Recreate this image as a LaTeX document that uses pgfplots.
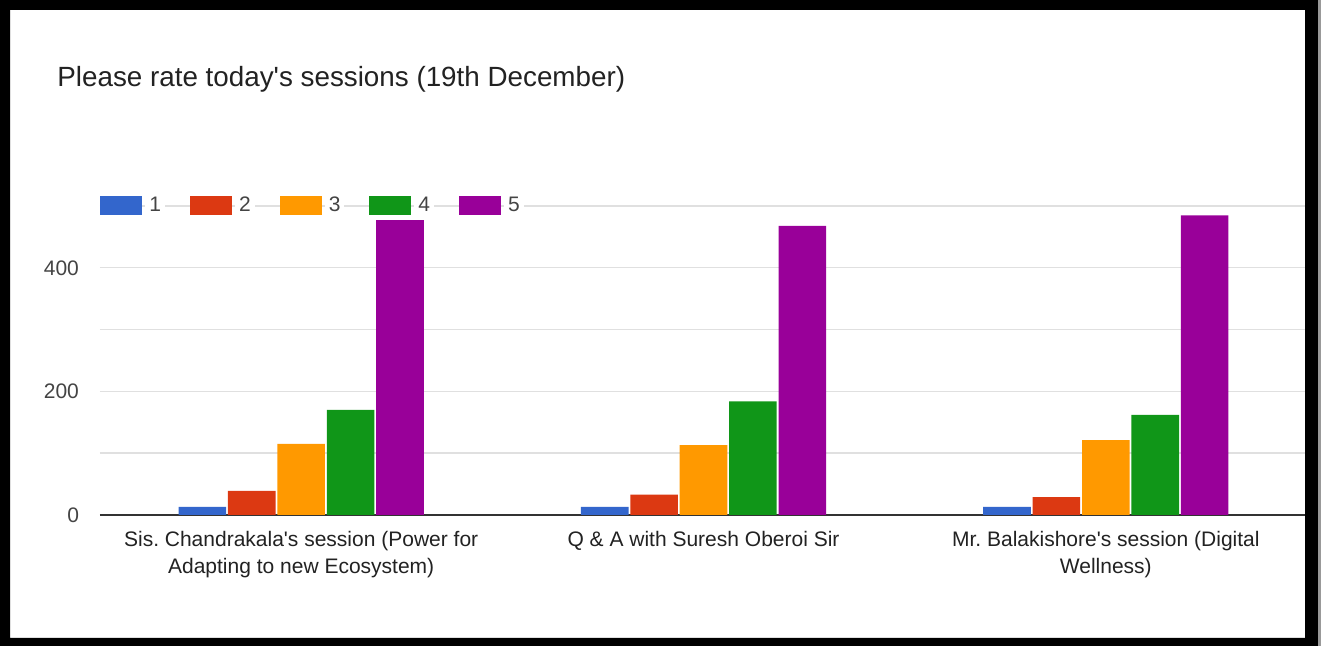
\documentclass[border=0pt]{standalone}
\usepackage{pgfplots}
\pgfplotsset{compat=1.18}
\usepackage{fontspec}
\setmainfont{Liberation Sans}
\frenchspacing
\definecolor{c1}{HTML}{3366CC}
\definecolor{c2}{HTML}{DC3912}
\definecolor{c3}{HTML}{FF9900}
\definecolor{c4}{HTML}{109618}
\definecolor{c5}{HTML}{990099}
\definecolor{gridc}{HTML}{E0E0E0}
\definecolor{tickc}{HTML}{444444}
\definecolor{txtc}{HTML}{222222}
\begin{document}
\begin{tikzpicture}[x=1pt,y=1pt]
\useasboundingbox (0,0) rectangle (660.5,323);
\fill[white] (0,0) rectangle (660.5,323);
\begin{axis}[
  at={(50pt,65.5pt)}, anchor=south west,
  scale only axis, width=603.5pt, height=154.5pt,
  xmin=-0.5, xmax=2.5, ymin=0, ymax=500,
  ybar=0.9pt, bar width=23.8pt,
  xtick={0,1,2},
  xticklabels={{Sis. Chandrakala\textquotesingle s session (Power for\\Adapting to new Ecosystem)},{Q \& A with Suresh Oberoi Sir},{Mr. Balakishore\textquotesingle s session (Digital\\Wellness)}},
  xticklabel style={align=center, font=\fontsize{10.5}{13.5}\selectfont, text=txtc, yshift=-4.5pt, anchor=north},
  ytick={200,400}, minor ytick={100,300,500},
  extra y ticks={0},
  extra y tick style={grid style={draw=black!80, line width=1pt}},
  yticklabel style={font=\fontsize{10.5}{13}\selectfont, text=tickc, xshift=-7pt},
  /pgf/number format/assume math mode=true,
  ymajorgrids, yminorgrids,
  grid style={draw=gridc, line width=0.7pt},
  minor grid style={draw=gridc, line width=0.7pt},
  axis line style={draw=none},
  major tick length=0pt, minor tick length=0pt,
  clip=false,
  legend columns=5,
  legend style={at={(0,1)}, anchor=west, xshift=0pt, draw=none, fill=none, inner sep=0pt,
    font=\fontsize{10.5}{13}\selectfont, text=tickc,
    nodes={fill=white, inner xsep=2pt, inner ysep=1pt},
    /tikz/every odd column/.append style={column sep=1.5pt},
    /tikz/every even column/.append style={column sep=12.5pt}},
  legend image code/.code={\fill[#1,draw=none] (0pt,-4.75pt) rectangle (21pt,4.75pt);},
]
\addplot[fill=c1, draw=none] coordinates {(0,13) (1,13) (2,13)};
\addplot[fill=c2, draw=none] coordinates {(0,39) (1,33) (2,29)};
\addplot[fill=c3, draw=none] coordinates {(0,115) (1,113) (2,121)};
\addplot[fill=c4, draw=none] coordinates {(0,170) (1,184) (2,162)};
\addplot[fill=c5, draw=none] coordinates {(0,477) (1,468) (2,485)};
\legend{1,2,3,4,5}
\end{axis}
\node[anchor=west, inner sep=0pt, text=txtc, font=\fontsize{13.9}{16}\selectfont] at (28.5,283.5) {Please rate today\textquotesingle s sessions (19th December)};
\fill[black, even odd rule] (0,0) rectangle (659,323) (5,4) rectangle (652.5,318);
\fill[black!40] (659,0) rectangle (660.5,323);
\end{tikzpicture}
\end{document}
